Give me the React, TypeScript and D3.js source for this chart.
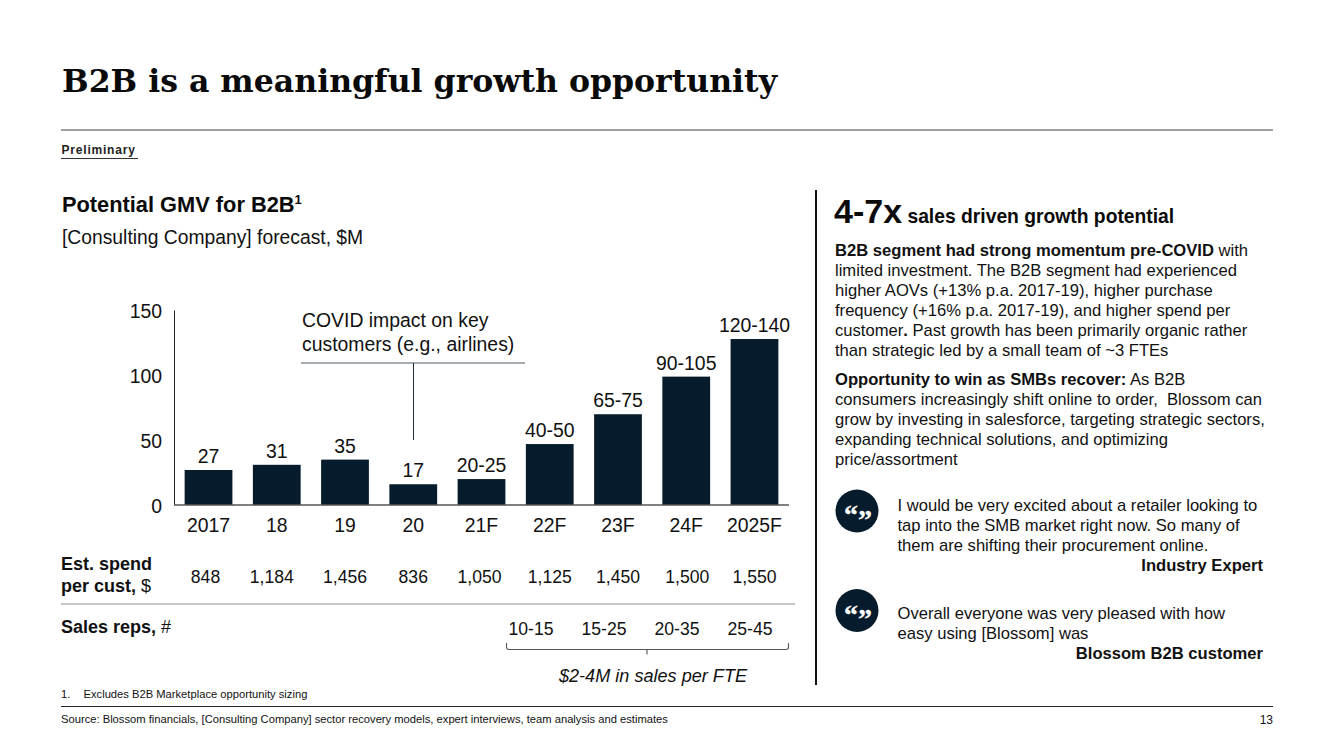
import React from "react";
import * as d3 from "d3";

const categories = ["2017", "18", "19", "20", "21F", "22F", "23F", "24F", "2025F"];
const barValues = [27, 31, 35, 16, 20, 47, 70, 99, 128];
const barLabels = ["27", "31", "35", "17", "20-25", "40-50", "65-75", "90-105", "120-140"];
const yTicks = [0, 50, 100, 150];
const spendPerCust = ["848", "1,184", "1,456", "836", "1,050", "1,125", "1,450", "1,500", "1,550"];
const salesReps = ["10-15", "15-25", "20-35", "25-45"];

const NAVY = "#061c2c";
const SANS = "'Liberation Sans', Arial, sans-serif";
const TXT = "#111";

const x = d3.scaleBand<string>().domain(categories).range([174.4, 788.6]).paddingInner(0.3).paddingOuter(0.15);
const y = d3.scaleLinear().domain([0, 150]).range([505, 310.5]);
const cx = (c: string) => (x(c) as number) + x.bandwidth() / 2;
const repsX = d3.scalePoint<string>().domain(salesReps).range([531, 750]);
const spendNudge = [-3, -5, 0, 0, -2, 0, 0, 1, 0];

type LineSpan = { t: string; b?: boolean };
const para1: LineSpan[][] = [
  [{ t: "B2B segment had strong momentum pre-COVID", b: true }, { t: " with" }],
  [{ t: "limited investment. The B2B segment had experienced" }],
  [{ t: "higher AOVs (+13% p.a. 2017-19), higher purchase" }],
  [{ t: "frequency (+16% p.a. 2017-19), and higher spend per" }],
  [{ t: "customer" }, { t: ".", b: true }, { t: " Past growth has been primarily organic rather" }],
  [{ t: "than strategic led by a small team of ~3 FTEs" }],
];
const para2: LineSpan[][] = [
  [{ t: "Opportunity to win as SMBs recover:", b: true }, { t: " As B2B" }],
  [{ t: "consumers increasingly shift online to order,  Blossom can" }],
  [{ t: "grow by investing in salesforce, targeting strategic sectors," }],
  [{ t: "expanding technical solutions, and optimizing" }],
  [{ t: "price/assortment" }],
];
const quote1 = [
  "I would be very excited about a retailer looking to",
  "tap into the SMB market right now. So many of",
  "them are shifting their procurement online.",
];
const quote2 = ["Overall everyone was very pleased with how", "easy using [Blossom] was"];

function Lines({ lines, x0, y0, dy, size }: { lines: LineSpan[][]; x0: number; y0: number; dy: number; size: number }) {
  return (
    <>
      {lines.map((l, i) => (
        <text key={i} x={x0} y={y0 + i * dy} fontSize={size} fill={TXT} xmlSpace="preserve">
          {l.map((s, j) => (
            <tspan key={j} fontWeight={s.b ? 700 : 400}>{s.t}</tspan>
          ))}
        </text>
      ))}
    </>
  );
}

function QuoteIcon({ cx: qx, cy }: { cx: number; cy: number }) {
  return (
    <g>
      <circle cx={qx} cy={cy} r={21.5} fill={NAVY} />
      <text x={qx - 6} y={cy + 13} textAnchor="middle" fontFamily="'Liberation Serif', serif" fontWeight={700} fontSize={28} fill="#fff" stroke="#fff" strokeWidth={0.3}>{"\u201C"}</text>
      <text x={qx + 8} y={cy + 17.5} textAnchor="middle" fontFamily="'Liberation Serif', serif" fontWeight={700} fontSize={28} fill="#fff" stroke="#fff" strokeWidth={0.3}>{"\u201D"}</text>
    </g>
  );
}

export default function App() {
  return (
    <svg width={1333} height={750} style={{ position: "absolute", left: 0, top: 0, background: "#fff" }} fontFamily={SANS}>
      {/* header */}
      <text x={62} y={92} fontFamily="'DejaVu Serif', serif" fontWeight={700} fontSize={32.5} fill="#0a0a0a" textLength={715} lengthAdjust="spacingAndGlyphs">B2B is a meaningful growth opportunity</text>
      <line x1={61} x2={1273} y1={130} y2={130} stroke="#808080" strokeWidth={1.5} />
      <text x={61.5} y={154} fontSize={12} fontWeight={700} fill="#222" letterSpacing={0.8}>Preliminary</text>
      <line x1={61} x2={138} y1={158.5} y2={158.5} stroke="#333" strokeWidth={1} />

      {/* left heading */}
      <text x={62} y={211.5} fontSize={21.8} fontWeight={700} fill="#0a0a0a">Potential GMV for B2B<tspan fontSize={13} dy={-8}>1</tspan></text>
      <text x={62} y={244} fontSize={19.3} fill={TXT}>[Consulting Company] forecast, $M</text>

      {/* axes */}
      {yTicks.map((t) => (
        <text key={t} x={162} y={y(t) + 7.5} textAnchor="end" fontSize={19.4} fill={TXT}>{t}</text>
      ))}
      <line x1={174.5} x2={174.5} y1={y(150)} y2={y(0)} stroke="#222" strokeWidth={1} />

      {/* bars */}
      {categories.map((c, i) => (
        <g key={c}>
          <rect x={x(c)} y={y(barValues[i])} width={x.bandwidth()} height={y(0) - y(barValues[i])} fill={NAVY} />
          <text x={cx(c)} y={y(barValues[i]) - 7} textAnchor="middle" fontSize={19.4} fill={TXT}>{barLabels[i]}</text>
          <text x={cx(c)} y={531.5} textAnchor="middle" fontSize={19.4} fill={TXT}>{c}</text>
          <text x={cx(c) + spendNudge[i]} y={583} textAnchor="middle" fontSize={17.6} fill={TXT}>{spendPerCust[i]}</text>
        </g>
      ))}
      {salesReps.map((r) => (
        <text key={r} x={repsX(r)} y={634.5} textAnchor="middle" fontSize={17.6} fill={TXT}>{r}</text>
      ))}
      <line x1={174} x2={789} y1={y(0)} y2={y(0)} stroke="#555" strokeWidth={1.3} />

      {/* COVID callout */}
      <text x={302} y={327} fontSize={19.4} fill={TXT}>COVID impact on key</text>
      <text x={302} y={351} fontSize={19.4} fill={TXT}>customers (e.g., airlines)</text>
      <line x1={301} x2={525} y1={363} y2={363} stroke="#4a5a66" strokeWidth={1} />
      <line x1={413.5} x2={413.5} y1={363} y2={440} stroke="#1d2d39" strokeWidth={1} />

      {/* rows */}
      <text x={61} y={569.5} fontSize={18} fontWeight={700} fill={TXT}>Est. spend</text>
      <text x={61} y={591.5} fontSize={18} fill={TXT}><tspan fontWeight={700}>per cust,</tspan> $</text>
      <line x1={61} x2={795} y1={604} y2={604} stroke="#b5b5b5" strokeWidth={1.3} />
      <text x={61} y={632.5} fontSize={18} fill={TXT}><tspan fontWeight={700}>Sales reps,</tspan> #</text>

      {/* brace */}
      <path d="M506.5,643 V647 Q506.5,649.5 509,649.5 H786 Q788.5,649.5 788.5,647 V643 M647,649.5 V654.5" fill="none" stroke="#555" strokeWidth={1.1} />
      <text x={653} y={682} textAnchor="middle" fontSize={18.1} fontStyle="italic" fill={TXT}>$2-4M in sales per FTE</text>

      {/* divider */}
      <line x1={816} x2={816} y1={190} y2={685} stroke="#111" strokeWidth={2} />

      {/* right panel */}
      <text x={834} y={222.5} fill="#0a0a0a" fontWeight={700} fontSize={19.3}><tspan fontSize={34}>4-7x</tspan> sales driven growth potential</text>
      <Lines lines={para1} x0={835} y0={256} dy={20.05} size={16.6} />
      <Lines lines={para2} x0={835} y0={385} dy={20} size={16.6} />

      <QuoteIcon cx={857} cy={511} />
      {quote1.map((q, i) => (
        <text key={q} x={897.5} y={511 + i * 20} fontSize={16.6} fill={TXT}>{q}</text>
      ))}
      <text x={1263} y={571} textAnchor="end" fontSize={16.6} fontWeight={700} fill={TXT}>Industry Expert</text>

      <QuoteIcon cx={857} cy={610.5} />
      {quote2.map((q, i) => (
        <text key={q} x={897.5} y={618.5 + i * 20} fontSize={16.6} fill={TXT}>{q}</text>
      ))}
      <text x={1263} y={658.5} textAnchor="end" fontSize={16.6} fontWeight={700} fill={TXT}>Blossom B2B customer</text>

      {/* footer */}
      <text x={61} y={698} fontSize={11.2} fill={TXT}>1.</text>
      <text x={83.5} y={698} fontSize={11.2} fill={TXT}>Excludes B2B Marketplace opportunity sizing</text>
      <line x1={61} x2={1273} y1={706.5} y2={706.5} stroke="#222" strokeWidth={1} />
      <text x={61} y={722.5} fontSize={11.2} fill={TXT}>Source: Blossom financials, [Consulting Company] sector recovery models, expert interviews, team analysis and estimates</text>
      <text x={1273} y={724} textAnchor="end" fontSize={12} fill={TXT}>13</text>
    </svg>
  );
}
